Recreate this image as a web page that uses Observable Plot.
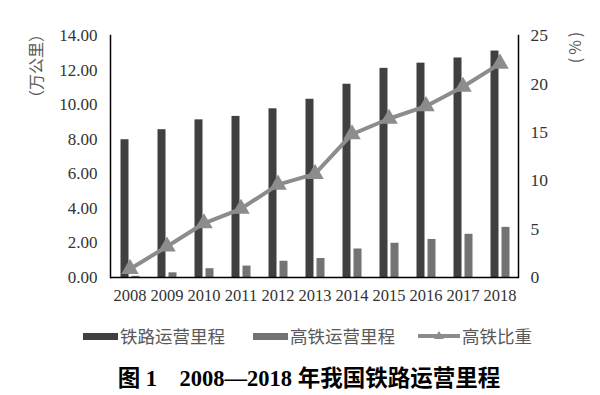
<!DOCTYPE html>
<html><head><meta charset="utf-8">
<script src="https://cdn.jsdelivr.net/npm/d3@7"></script>
<script src="https://cdn.jsdelivr.net/npm/@observablehq/plot@0.6"></script>
<style>
body{margin:0;background:#fff;}
#wrap{position:relative;width:600px;height:395px;overflow:hidden;}
.lab{position:absolute;font-family:"Noto Sans CJK SC",sans-serif;color:#595959;white-space:nowrap;}
.sw{position:absolute;}
</style>
</head><body><div id="wrap"></div>
<script>
const years = ["2008","2009","2010","2011","2012","2013","2014","2015","2016","2017","2018"];
const railKm = [7.97,8.55,9.12,9.32,9.76,10.31,11.18,12.10,12.40,12.70,13.10];
const hsrKm = [0.07,0.27,0.51,0.66,0.94,1.10,1.65,1.98,2.20,2.50,2.90];
const hsrShare = [0.88,3.2,5.6,7.1,9.6,10.7,14.8,16.4,17.7,19.7,22.1];
const leftTicks = [0,2,4,6,8,10,12,14];
const rightTicks = [0,5,10,15,20,25];
const seriesNames = ["铁路运营里程","高铁运营里程","高铁比重"];
const colors = ["#404040","#737373","#8c8c8c"];
const leftMax = 14, rightMax = 25;
const k = leftMax / rightMax;

const data = years.map((y,i)=>({year:y, rail:railKm[i], hsr:hsrKm[i], share:hsrShare[i], shareL:hsrShare[i]*k}));

const chart = Plot.plot({
  width: 600, height: 310,
  marginTop: 35, marginBottom: 33, marginLeft: 110, marginRight: 82,
  style: {fontFamily: "'Liberation Serif', serif", fontSize: "16px", color: "#333", background: "transparent"},
  x: {type: "band", domain: years, padding: 0, axis: null},
  y: {domain: [0, leftMax], axis: null},
  marks: [
    Plot.barY(data, {x: "year", y: "rail", fill: colors[0], insetLeft: 9.5, insetRight: 19.5}),
    Plot.barY(data, {x: "year", y: "hsr", fill: colors[1], insetLeft: 20.5, insetRight: 8.5}),
    Plot.line(data, {x: "year", y: "shareL", stroke: colors[2], strokeWidth: 4}),
    Plot.dot(data, {x: "year", y: "shareL", symbol: "triangle", r: 6.5, fill: colors[2], stroke: "none"}),
    Plot.frame({anchor: "left", stroke: "#000", strokeWidth: 1.5}),
    Plot.frame({anchor: "right", stroke: "#000", strokeWidth: 1.5}),
    Plot.ruleY([0], {stroke: "#000", strokeWidth: 1.5}),
    Plot.axisX({tickSize: 0, tickPadding: 12, fontSize: 16.5, label: null}),
    Plot.axisY({anchor: "left", ticks: leftTicks, tickFormat: d => d.toFixed(2), tickSize: 0, tickPadding: 13, fontSize: 17, label: null}),
    Plot.axisY({anchor: "right", ticks: rightTicks.map(v => v * k), tickFormat: d => String(Math.round(d / k)), tickSize: 0, tickPadding: 12, fontSize: 17.5, label: null})
  ]
});
const wrap = document.getElementById("wrap");
chart.style.position = "absolute"; chart.style.left = "0px"; chart.style.top = "0px";
wrap.appendChild(chart);

function add(html, css, cls){ const d=document.createElement("div"); d.className=cls||"lab"; d.innerHTML=html; Object.assign(d.style, css); wrap.appendChild(d); return d; }
// axis titles
add("（万公里）", {left:"35px", top:"66px", fontSize:"16px", transform:"translate(-50%,-50%) rotate(-90deg)"});
add("(%)", {left:"574px", top:"46px", fontSize:"16px", letterSpacing:"3px", transform:"translate(-50%,-50%) rotate(-90deg)"});
// legend
add("", {left:"83px", top:"333px", width:"35px", height:"7px", background:colors[0]}, "sw");
add(seriesNames[0], {left:"120px", top:"324px", fontSize:"17.5px", lineHeight:"24px"});
add("", {left:"253px", top:"333px", width:"35px", height:"7px", background:colors[1]}, "sw");
add(seriesNames[1], {left:"290px", top:"324px", fontSize:"17.5px", lineHeight:"24px"});
add("", {left:"418px", top:"334px", width:"42px", height:"4px", background:colors[2]}, "sw");
add("", {left:"434px", top:"331px", width:"0", height:"0", borderLeft:"5px solid transparent", borderRight:"5px solid transparent", borderBottom:"8px solid "+colors[2]}, "sw");
add(seriesNames[2], {left:"462px", top:"324px", fontSize:"17.5px", lineHeight:"24px"});
// caption
add("图 1　2008—2018 年我国铁路运营里程", {left:"309px", top:"376px", transform:"translate(-50%,-50%)", fontSize:"22.5px", fontWeight:"bold", color:"#000", fontFamily:"'Liberation Serif','Noto Sans CJK SC',serif"});
</script></body></html>
